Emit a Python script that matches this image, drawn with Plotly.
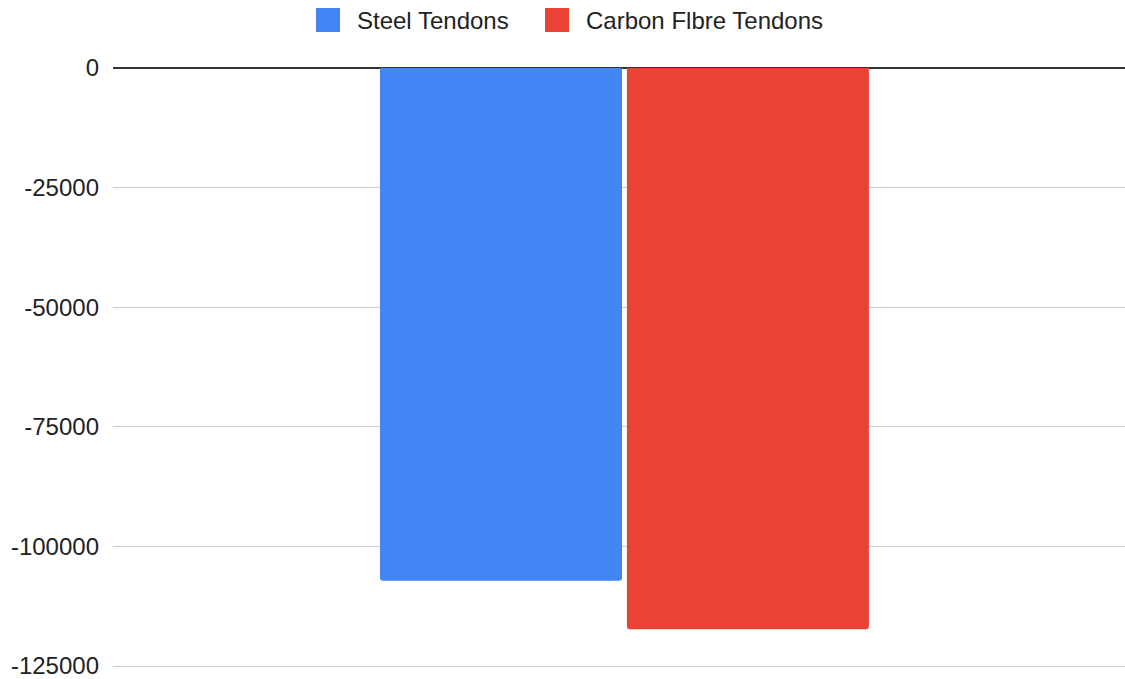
import plotly.graph_objects as go

categories = [0]
series_names = ["Steel Tendons", "Carbon Flbre Tendons"]
steel_values = [-107200]
carbon_values = [-117300]
tick_vals = [0, -25000, -50000, -75000, -100000, -125000]
tick_text = ["0", "-25000", "-50000", "-75000", "-100000", "-125000"]
colors = ["#4285F4", "#EA4335"]

W, H = 1125, 679
ML, MR, MT, MB = 113, 0, 68, 10
PW, PH = W - ML - MR, H - MT - MB

def px_x(x):
    return (x - ML) / PW

def px_y(y):
    return (H - MB - y) / PH

fig = go.Figure()
fig.add_trace(go.Bar(x=categories, y=steel_values, name=series_names[0],
                     marker=dict(color=colors[0], cornerradius=3, line=dict(width=0))))
fig.add_trace(go.Bar(x=categories, y=carbon_values, name=series_names[1],
                     marker=dict(color=colors[1], cornerradius=3, line=dict(width=0))))

# custom legend (large rounded squares like the reference)
legend_sq_x = [316, 545]
legend_txt_x = [355, 584]
shapes = []
annotations = []
for i, name in enumerate(series_names):
    x0 = legend_sq_x[i]
    shapes.append(dict(type="rect", xref="paper", yref="paper",
                       x0=px_x(x0), x1=px_x(x0 + 24), y0=px_y(32), y1=px_y(8),
                       fillcolor=colors[i], line=dict(width=0), layer="above"))
    annotations.append(dict(text=name, xref="paper", yref="paper",
                            x=px_x(legend_txt_x[i]), y=px_y(20),
                            xanchor="left", yanchor="middle", showarrow=False,
                            font=dict(size=24, color="#222222")))

fig.update_layout(
    width=W, height=H,
    margin=dict(l=ML, r=MR, t=MT, b=MB),
    paper_bgcolor="white", plot_bgcolor="white",
    barmode="group", bargap=0.512, bargroupgap=0.02,
    font=dict(family="Liberation Sans, Arial, sans-serif", size=24, color="#222222"),
    showlegend=False,
    shapes=shapes,
    annotations=annotations,
    xaxis=dict(range=[-0.5054, 0.4946], showticklabels=False, showgrid=False,
               zeroline=False, showline=False, ticks=""),
    yaxis=dict(range=[-125627, 0], tickvals=tick_vals, ticktext=tick_text,
               showgrid=True, gridcolor="#cccccc", gridwidth=1,
               zeroline=True, zerolinecolor="#333333", zerolinewidth=1.5,
               showline=False, ticks="", ticklabelstandoff=13,
               ticklabeloverflow="allow",
               tickfont=dict(size=24, color="#222222")),
)

fig.write_html("out.html")
